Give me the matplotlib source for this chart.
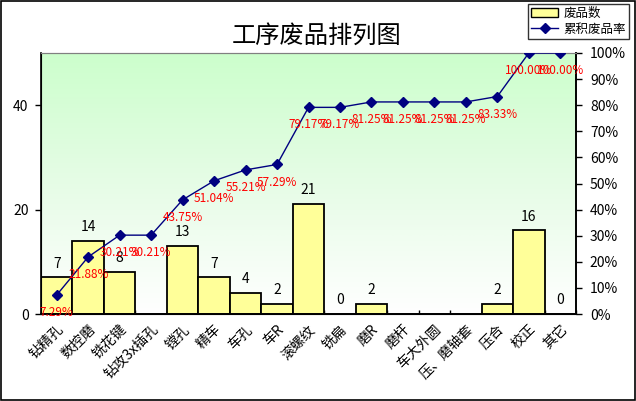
import numpy as np
import matplotlib
matplotlib.use("Agg")
import matplotlib.pyplot as plt
from matplotlib.patches import Patch
from matplotlib.lines import Line2D
from matplotlib.colors import LinearSegmentedColormap

plt.rcParams['font.family'] = ['Noto Sans CJK SC', 'DejaVu Sans']

categories = ["钻精孔", "数控磨", "铣花键", "钻攻3x插孔", "镗孔", "精车", "车孔", "车R",
              "滚螺纹", "铣扁", "磨R", "磨杆", "车大外圆", "压、磨轴套", "压合", "校正", "其它"]
counts = [7, 14, 8, None, 13, 7, 4, 2, 21, 0, 2, None, None, None, 2, 16, 0]
cum_pct = [7.29, 21.88, 30.21, 30.21, 43.75, 51.04, 55.21, 57.29, 79.17, 79.17,
           81.25, 81.25, 81.25, 81.25, 83.33, 100.00, 100.00]
title = "工序废品排列图"
left_ticks = [0, 20, 40]
right_ticks = [0, 10, 20, 30, 40, 50, 60, 70, 80, 90, 100]

W, H = 636, 401
fig = plt.figure(figsize=(W / 100, H / 100), dpi=100)
fig.patch.set_facecolor("white")
# outer border
fig.add_artist(plt.Rectangle((0.0015, 0.002), 0.997, 0.996, transform=fig.transFigure,
                             fill=False, edgecolor="black", linewidth=1.2))

x0, x1, ytop, ybot = 41, 576, 53, 314
ax = fig.add_axes([x0 / W, 1 - ybot / H, (x1 - x0) / W, (ybot - ytop) / H])
n = len(categories)
xs = np.arange(n)
ax.set_xlim(-0.5, n - 0.5)
ax.set_ylim(0, 50)

# gradient background
cmap = LinearSegmentedColormap.from_list("g", ["#ffffff", "#e6fce6", "#ccffcc"])
grad = np.linspace(0, 1, 256).reshape(-1, 1)
ax.imshow(grad, extent=(-0.5, n - 0.5, 0, 50), origin="lower", aspect="auto",
          cmap=cmap, zorder=0)

vals = [c if c is not None else 0 for c in counts]
ax.bar(xs, vals, width=1.0, color="#ffff99", edgecolor="black", linewidth=1.3, zorder=2)
for x, c in zip(xs, counts):
    if c is not None:
        ax.annotate(str(c), (x, c), xytext=(0, 5), textcoords="offset points",
                    ha="center", va="bottom", fontsize=10, color="black", zorder=5)

ax.set_yticks(left_ticks)
ax.set_yticklabels([str(t) for t in left_ticks], fontsize=10)
ax.tick_params(axis="y", direction="out", length=4, width=1, pad=5)
ax.set_xticks(xs)
ax.set_xticklabels(categories, rotation=45, ha="right", rotation_mode="anchor", fontsize=10)
ax.tick_params(axis="x", length=0, pad=6)
ax.set_xticks(np.arange(-0.5, n, 1.0), minor=True)
ax.tick_params(axis="x", which="minor", direction="in", length=3, width=1)
ax.spines["top"].set_color("#808080")
ax.spines["left"].set_linewidth(1.2)
ax.spines["bottom"].set_linewidth(1.2)
ax.spines["right"].set_linewidth(1.2)

ax2 = ax.twinx()
ax2.set_ylim(0, 100)
ax2.plot(xs, cum_pct, color="#000080", linewidth=1, marker="D", markersize=5,
         markerfacecolor="#000080", markeredgecolor="#000080", zorder=6)
for x, p in zip(xs, cum_pct):
    ax2.annotate(f"{p:.2f}%", (x, p), xytext=(0, -8), textcoords="offset points",
                 ha="center", va="top", fontsize=8.5, color="red", zorder=7)
ax2.set_yticks(right_ticks)
ax2.set_yticklabels([f"{t}%" for t in right_ticks], fontsize=10)
ax2.tick_params(axis="y", direction="out", length=4, width=1, pad=6)
ax2.spines["top"].set_color("#808080")
ax2.spines["right"].set_linewidth(1.2)

fig.text(317 / W, 1 - 36 / H, title, ha="center", va="center", fontsize=17.5)

handles = [Patch(facecolor="#ffff99", edgecolor="black", linewidth=1),
           Line2D([0], [0], color="#000080", marker="D", markersize=5, linewidth=1)]
leg = fig.legend(handles, ["废品数", "累积废品率"], loc="upper right",
                 bbox_to_anchor=(629 / W, 1 - 4 / H), fontsize=9, frameon=True,
                 fancybox=False, edgecolor="black", handlelength=2.2,
                 borderpad=0.25, labelspacing=0.2, handletextpad=0.4, borderaxespad=0)
leg.get_frame().set_linewidth(1)

fig.savefig("out.png", dpi=100)
